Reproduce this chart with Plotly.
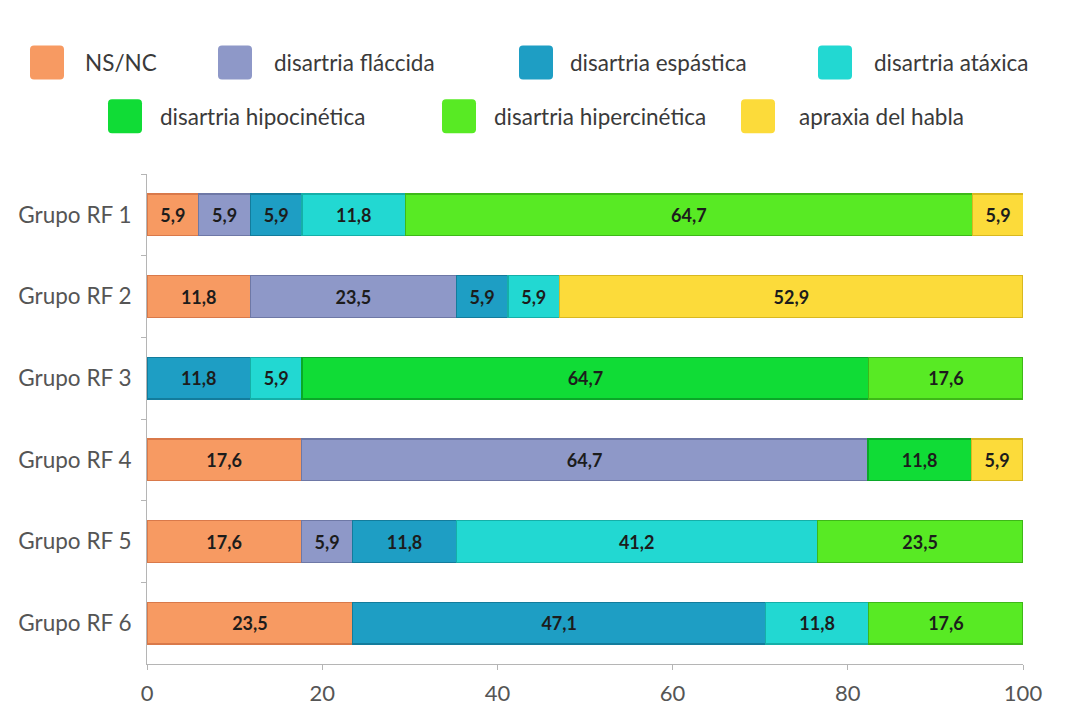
import plotly.graph_objects as go

# Groups and series (percentages); None where a group has no cases
groups = ["Grupo RF 1", "Grupo RF 2", "Grupo RF 3", "Grupo RF 4", "Grupo RF 5", "Grupo RF 6"]

series_names = [
    "NS/NC",
    "disartria fláccida",
    "disartria espástica",
    "disartria atáxica",
    "disartria hipocinética",
    "disartria hipercinética",
    "apraxia del habla",
]

ns_nc = [5.9, 11.8, None, 17.6, 17.6, 23.5]
flaccida = [5.9, 23.5, None, 64.7, 5.9, None]
espastica = [5.9, 5.9, 11.8, None, 11.8, 47.1]
ataxica = [11.8, 5.9, 5.9, None, 41.2, 11.8]
hipocinetica = [None, None, 64.7, 11.8, None, None]
hipercinetica = [64.7, None, 17.6, None, 23.5, 17.6]
apraxia = [5.9, 52.9, None, 5.9, None, None]

values = [ns_nc, flaccida, espastica, ataxica, hipocinetica, hipercinetica, apraxia]

fills = ["#F79A62", "#8E98C8", "#1E9EC4", "#22D8D2", "#10DC36", "#58EA24", "#FCDB3A"]
edges = ["#D9794A", "#6E78A6", "#137C9C", "#15AFA8", "#0AA828", "#3EB818", "#D8B820"]

font_family = "Lato, 'Open Sans', sans-serif"

W, H = 1084, 718
M_L, M_R, M_T, M_B = 147, 61, 174, 52
PLOT_W = W - M_L - M_R
PLOT_H = H - M_T - M_B

fig = go.Figure()
for name, vals, fc, ec in zip(series_names, values, fills, edges):
    fig.add_trace(
        go.Bar(
            name=name,
            y=groups,
            x=vals,
            orientation="h",
            marker=dict(color=fc, line=dict(color=ec, width=1.2)),
            texttemplate="<b>%{x:.1f}</b>",
            textposition="inside",
            insidetextanchor="middle",
            textangle=0,
            textfont=dict(family=font_family, size=18, color="#1c1c1c"),
            showlegend=False,
        )
    )


def px_x(px):
    return (px - M_L) / PLOT_W


def px_y(py):
    return (H - M_B - py) / PLOT_H


# Legend: two centred rows of colour keys with labels
key_left = [30, 218, 519, 818, 108, 442, 741]
text_left = [83, 272, 568, 872, 158, 492, 797]
row_center = [62, 62, 62, 62, 116, 116, 116]
KEY = 34
R = 4

shapes = []
annotations = []
for name, fc, kx, tx, cy in zip(series_names, fills, key_left, text_left, row_center):
    x0, x1 = px_x(kx), px_x(kx + KEY)
    y0, y1 = px_y(cy + KEY / 2), px_y(cy - KEY / 2)
    rx, ry = R / PLOT_W, R / PLOT_H
    path = (
        f"M {x0 + rx},{y0} L {x1 - rx},{y0} Q {x1},{y0} {x1},{y0 + ry} "
        f"L {x1},{y1 - ry} Q {x1},{y1} {x1 - rx},{y1} "
        f"L {x0 + rx},{y1} Q {x0},{y1} {x0},{y1 - ry} "
        f"L {x0},{y0 + ry} Q {x0},{y0} {x0 + rx},{y0} Z"
    )
    shapes.append(
        dict(type="path", xref="paper", yref="paper", path=path,
             fillcolor=fc, line=dict(width=0))
    )
    annotations.append(
        dict(xref="paper", yref="paper", x=px_x(tx), y=px_y(cy),
             xanchor="left", yanchor="middle", text=name, showarrow=False,
             font=dict(family=font_family, size=22.5, color="#3a3a3a"))
    )

fig.update_layout(
    width=W,
    height=H,
    barmode="stack",
    bargap=0.49,
    separators=",.",
    paper_bgcolor="white",
    plot_bgcolor="white",
    margin=dict(l=M_L, r=M_R, t=M_T, b=M_B),
    font=dict(family=font_family, size=22, color="#444"),
    uniformtext=dict(mode="show", minsize=10),
    showlegend=False,
    shapes=shapes,
    annotations=annotations,
    xaxis=dict(
        range=[0, 100],
        tickvals=[0, 20, 40, 60, 80, 100],
        showgrid=False,
        zeroline=False,
        showline=True,
        linecolor="#b5b5b5",
        linewidth=1,
        ticks="outside",
        ticklen=5,
        tickcolor="#b5b5b5",
        tickfont=dict(size=22, color="#555"),
        ticklabelstandoff=5,
        fixedrange=True,
    ),
    yaxis=dict(
        autorange="reversed",
        showgrid=False,
        showline=True,
        linecolor="#b5b5b5",
        linewidth=1,
        ticks="outside",
        tickson="boundaries",
        ticklen=5,
        tickcolor="#b5b5b5",
        tickfont=dict(size=22.5, color="#555"),
        ticklabelstandoff=10,
    ),
)

fig.write_html("out.html")
